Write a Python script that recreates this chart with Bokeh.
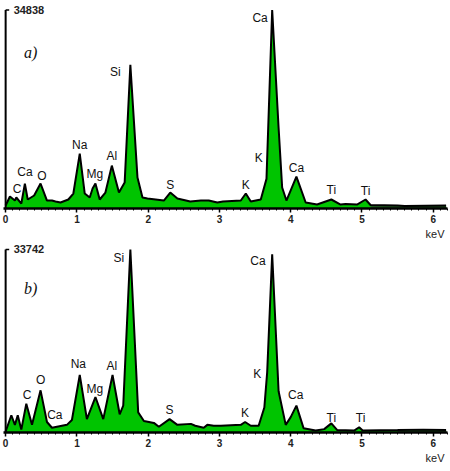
import numpy as np
from bokeh.plotting import figure
from bokeh.layouts import column
from bokeh.models import Label, FixedTicker, Range1d, Title
from bokeh.core.properties import value
from bokeh.embed import file_html
from bokeh.resources import INLINE

# ---------------- data ----------------
major_ticks = [0, 1, 2, 3, 4, 5, 6]
minor_ticks = [round(i * 0.1, 1) for i in range(0, 63)]

# panel a) spectrum
ymax_a = 34838
energy_a = [0.00, 0.06, 0.13, 0.15, 0.22, 0.27, 0.31, 0.40, 0.49, 0.58, 0.65, 0.70,
            0.77, 0.88, 0.95, 1.04, 1.11, 1.18, 1.22, 1.26, 1.32, 1.40, 1.49, 1.59,
            1.67, 1.75, 1.85, 1.92, 1.99, 2.22, 2.31, 2.41, 2.59, 2.74, 2.85, 2.97,
            3.05, 3.30, 3.37, 3.44, 3.58, 3.66, 3.74, 3.83, 3.88, 3.94, 4.08, 4.21,
            4.37, 4.57, 4.70, 4.77, 4.93, 5.05, 5.12, 5.50, 5.60, 6.18]
counts_a = [525, 2100, 1400, 1930, 875, 4380, 1580, 2280, 4380, 1400, 1400, 1230,
            1050, 1580, 2630, 9630, 2630, 1930, 3500, 4380, 1580, 2800, 7530, 2800,
            4550, 25210, 5430, 1930, 1750, 1400, 2800, 1750, 1230, 1400, 1400, 1050,
            1230, 1400, 2630, 1230, 1580, 5200, 34838, 14180, 3680, 1400, 5600, 1050,
            700, 1580, 700, 790, 700, 1580, 610, 525, 440, 525]
peaks_a = ["C", "Ca", "O", "Na", "Mg", "Al", "Si", "S", "K", "K", "Ca", "Ca", "Ti", "Ti"]
peak_x_a = [0.16, 0.27, 0.51, 1.04, 1.25, 1.49, 1.54, 2.31, 3.37, 3.55, 3.57, 4.08, 4.57, 5.05]
peak_y_a = [3500, 6360, 5780, 11150, 6075, 9280, 23985, 4200, 4200, 8875, 33490, 7055, 3275, 3150]

# panel b) spectrum
ymax_b = 33742
energy_b = [0.00, 0.08, 0.13, 0.17, 0.22, 0.29, 0.37, 0.49, 0.58, 0.65, 0.86, 0.93,
            1.04, 1.14, 1.26, 1.37, 1.50, 1.60, 1.65, 1.75, 1.86, 1.94, 2.08, 2.15,
            2.30, 2.41, 2.60, 2.66, 2.78, 2.83, 2.92, 3.02, 3.30, 3.36, 3.44, 3.55,
            3.63, 3.67, 3.74, 3.83, 3.93, 4.00, 4.08, 4.18, 4.35, 4.47, 4.57, 4.65,
            4.89, 4.96, 5.01, 5.50, 5.86, 6.18]
counts_b = [180, 3180, 1410, 3180, 530, 5300, 1410, 7770, 1940, 880, 1410, 2300,
            10600, 2470, 6540, 2470, 10600, 3360, 4950, 33742, 3710, 2120, 1770, 1060,
            2470, 1410, 1590, 1240, 880, 1410, 1240, 1240, 1410, 1940, 1240, 1240,
            4600, 11130, 32870, 7600, 1410, 2830, 4950, 800, 350, 620, 1680, 480,
            350, 970, 350, 440, 530, 440]
peaks_b = ["C", "O", "Ca", "Na", "Mg", "Al", "Si", "S", "K", "K", "Ca", "Ca", "Ti", "Ti"]
peak_x_b = [0.30, 0.49, 0.69, 1.02, 1.25, 1.49, 1.59, 2.30, 3.36, 3.53, 3.54, 4.07, 4.57, 4.98]
peak_y_b = [6840, 9610, 3300, 12550, 7950, 12260, 32160, 4135, 3600, 10780, 31700, 6840, 2720, 2650]


def make_panel(energy, counts, ymax, names, px, py, tag, frame_h, border_top,
               y_pad):
    p = figure(frame_width=444, frame_height=frame_h,
               min_border_left=3, min_border_right=3, min_border_top=border_top,
               min_border_bottom=0,
               x_range=Range1d(-0.03, 6.2), y_range=Range1d(0, ymax * y_pad),
               output_backend="svg", toolbar_location=None)
    p.outline_line_color = None
    p.xgrid.visible = False
    p.ygrid.visible = False
    p.yaxis.visible = False
    p.background_fill_color = "white"
    p.border_fill_color = "white"

    e = np.array(energy, dtype=float)
    c = np.array(counts, dtype=float)
    p.varea(x=e, y1=0, y2=c, fill_color="#00c400")
    tail = e >= 5.12
    p.varea(x=e[tail], y1=0, y2=c[tail], fill_color="#1f5a1f")
    p.line(x=e, y=c, line_color="black", line_width=2)

    # y axis line up to max value
    p.segment(x0=[0], y0=[0], x1=[0], y1=[ymax], line_color="black", line_width=2)
    p.segment(x0=[0], y0=[ymax], x1=[0.05], y1=[ymax], line_color="black", line_width=1.5)
    p.add_layout(Label(x=0, y=ymax, x_offset=8, text=str(ymax),
                       text_baseline="middle", text_align="left",
                       text_font="Liberation Sans", text_font_style="bold",
                       text_font_size="11px", text_color="#222222"))

    # peak labels
    p.text(x=px, y=py, text=names, text_align="center", text_baseline="middle",
           text_font=value("Liberation Sans"), text_font_size="12px",
           text_color="#111111")

    # panel tag
    p.add_layout(Label(x=0.35, y=ymax * 0.785, text=tag, text_align="center",
                       text_baseline="middle", text_font="Liberation Serif",
                       text_font_style="italic", text_font_size="16px",
                       text_color="#111111"))

    # x axis
    ax = p.xaxis[0]
    ax.ticker = FixedTicker(ticks=major_ticks, minor_ticks=minor_ticks)
    ax.axis_line_width = 2.5
    ax.axis_line_color = "black"
    ax.major_tick_in = 0
    ax.major_tick_out = 4
    ax.minor_tick_in = 0
    ax.minor_tick_out = 2
    ax.major_tick_line_width = 1.5
    ax.major_label_standoff = 2
    ax.major_label_text_font = "Liberation Sans"
    ax.major_label_text_font_style = "bold"
    ax.major_label_text_font_size = "10px"
    ax.major_label_text_color = "#222222"

    p.add_layout(Title(text="keV", align="right", standoff=0, offset=3,
                       text_font="Liberation Sans", text_font_style="normal",
                       text_font_size="11px", text_color="#222222"), "below")
    return p


pa = make_panel(energy_a, counts_a, ymax_a, peaks_a, peak_x_a, peak_y_a, "a)",
                203, 5, 1.023)
pb = make_panel(energy_b, counts_b, ymax_b, peaks_b, peak_x_b, peak_y_b, "b)",
                191, 2, 1.0435)

layout = column(pa, pb, spacing=0)
open("out.html", "w").write(file_html(layout, INLINE))
